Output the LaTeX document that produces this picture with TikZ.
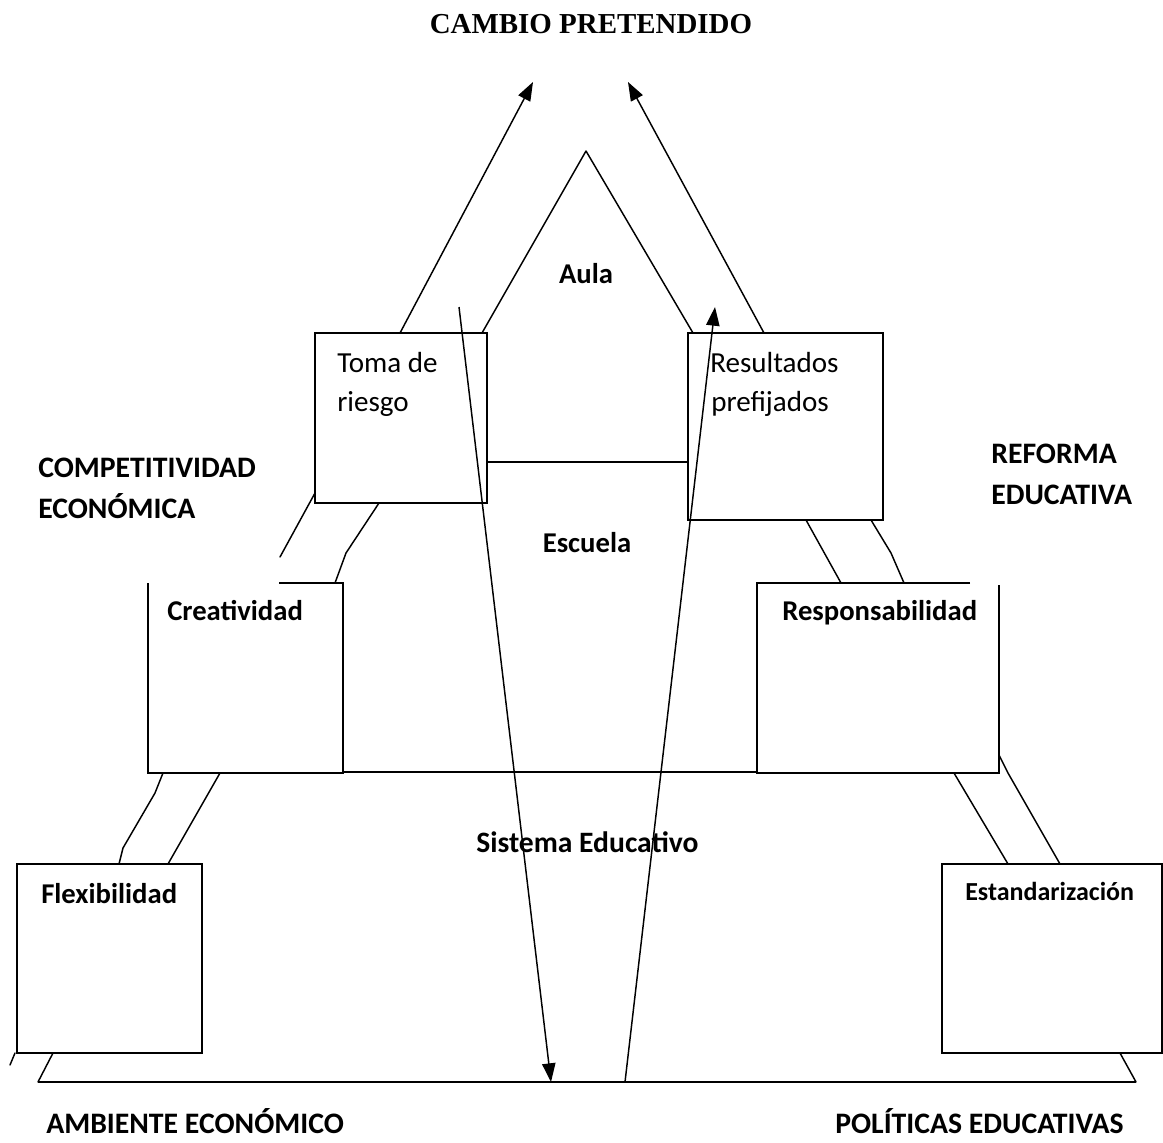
\documentclass[tikz,border=0pt]{standalone}
\usepackage{fontspec}
\setmainfont{Carlito}
\newfontfamily\titlefont{Liberation Serif}
\usetikzlibrary{arrows.meta}
\begin{document}
\begin{tikzpicture}[x=0.75pt,y=-0.75pt,
  boxline/.style={line width=1.5pt},
  sideline/.style={line width=1.1pt,line cap=round,line join=round},
  arr/.style={line width=1.1pt,-{Triangle[length=14pt,width=10pt]}},
  box/.style={rectangle,anchor=north west,inner sep=0pt,outer sep=0pt},
  lblb/.style={anchor=base west,inner sep=0pt,font=\fontsize{21.5}{24}\selectfont\bfseries},
  lblcap/.style={anchor=base west,inner sep=0pt,font=\fontsize{22.3}{24}\selectfont\bfseries},
  lblbc/.style={anchor=base,inner sep=0pt,font=\fontsize{21.5}{24}\selectfont\bfseries},
  lblr/.style={anchor=base west,inner sep=0pt,font=\fontsize{21.8}{24}\selectfont},
]
\useasboundingbox (0,0) rectangle (1163,1142);

% boxes
\node[box,draw,boxline,minimum width=129pt,minimum height=127.5pt] (toma) at (315,333) {};
\node[box,draw,boxline,minimum width=146.25pt,minimum height=140.25pt] (resul) at (688,333) {};
\node[box,minimum width=146.25pt,minimum height=142.5pt] (creat) at (148,583) {};
\node[box,minimum width=181.5pt,minimum height=142.5pt] (respo) at (757,583) {};
\node[box,draw,boxline,minimum width=138.75pt,minimum height=141.75pt] (flex) at (17,864) {};
\node[box,draw,boxline,minimum width=165pt,minimum height=141.75pt] (estan) at (942,864) {};

% partial box outlines
\coordinate (ctop) at (279,583);
\draw[boxline] (ctop) -- (creat.north east) -- (creat.south east) -- (creat.south west) -- (creat.north west);
\coordinate (rtop) at (970,583);
\coordinate (rright) at (999,585);
\draw[boxline] (rtop) -- (respo.north west) -- (respo.south west) -- (respo.south east) -- (rright);

% level lines
\coordinate (aulaL) at (487,462);
\coordinate (aulaR) at (688,462);
\draw[sideline] (aulaL) -- (aulaR);
\coordinate (escL) at (343,772);
\coordinate (escR) at (757,772);
\draw[sideline] (escL) -- (escR);
\coordinate (bl) at (38,1082);
\coordinate (br) at (1136,1082);
\draw[boxline] (bl) -- (br);

% apex triangle
\coordinate (apex) at (586,151);
\coordinate (ai) at (482,333);
\coordinate (bi) at (693,333);
\draw[sideline] (ai) -- (apex) -- (bi);

% outer arrows to CAMBIO PRETENDIDO
\coordinate (lo) at (400,333);
\coordinate (lotip) at (533,82);
\coordinate (ro) at (764,333);
\coordinate (rotip) at (628,82);
\draw[arr] (lo) -- (lotip);
\draw[arr] (ro) -- (rotip);

% toma -> creatividad
\coordinate (tc1a) at (315,493);
\coordinate (tc1b) at (280,557);
\coordinate (tc2a) at (379,503);
\coordinate (tc2m) at (346,553);
\coordinate (tc2b) at (335,583);
\draw[sideline] (tc1a) -- (tc1b);
\draw[sideline] (tc2a) -- (tc2m) -- (tc2b);

% resultados -> responsabilidad
\coordinate (rr1a) at (806,520);
\coordinate (rr1b) at (841,583);
\coordinate (rr2a) at (871,520);
\coordinate (rr2m) at (891,553);
\coordinate (rr2b) at (904,583);
\draw[sideline] (rr1a) -- (rr1b);
\draw[sideline] (rr2a) -- (rr2m) -- (rr2b);

% creatividad -> flexibilidad
\coordinate (cf1a) at (163,773);
\coordinate (cf1m) at (155,793);
\coordinate (cf1n) at (123,848);
\coordinate (cf1b) at (119,864);
\coordinate (cf2a) at (220,773);
\coordinate (cf2b) at (168,864);
\draw[sideline] (cf1a) -- (cf1m) -- (cf1n) -- (cf1b);
\draw[sideline] (cf2a) -- (cf2b);

% responsabilidad -> estandarizacion
\coordinate (re1a) at (954,773);
\coordinate (re1b) at (1008,864);
\coordinate (re2a) at (999,755);
\coordinate (re2m) at (1008,773);
\coordinate (re2b) at (1060,864);
\draw[sideline] (re1a) -- (re1b);
\draw[sideline] (re2a) -- (re2m) -- (re2b);

% boxes -> base
\coordinate (fb) at (53,1053);
\draw[sideline] (bl) -- (fb);
\coordinate (fd1) at (10,1065);
\coordinate (fd2) at (15,1053);
\draw[sideline] (fd1) -- (fd2);
\coordinate (eb) at (1120,1053);
\draw[sideline] (eb) -- (br);

% long arrows
\coordinate (dstart) at (459,307);
\coordinate (dend) at (551,1082);
\draw[arr] (dstart) -- (dend);
\coordinate (ustart) at (625,1082);
\coordinate (uend) at (715,307);
\draw[arr] (ustart) -- (uend);

% texts
\node[anchor=base,inner sep=0pt,font=\titlefont\fontsize{21.7}{24}\selectfont\bfseries] (title) at (591,33) {CAMBIO PRETENDIDO};
\node[lblcap] (comp1) at (38,477) {COMPETITIVIDAD};
\node[lblcap] (comp2) at (38,518) {ECONÓMICA};
\node[lblcap] (ref1) at (991,463) {REFORMA};
\node[lblcap] (ref2) at (991,504) {EDUCATIVA};
\node[lblcap] (amb) at (46,1133) {AMBIENTE ECONÓMICO};
\node[lblcap] (pol) at (835,1133) {POLÍTICAS EDUCATIVAS};
\node[lblbc] (aula) at (586,283) {Aula};
\node[lblbc] (escuela) at (587,552) {Escuela};
\node[anchor=base west,inner sep=0pt,font=\fontsize{22.2}{24}\selectfont\bfseries] (sist) at (476,852) {Sistema Educativo};
\node[lblr] (toma1) at (337,372) {Toma de};
\node[lblr] (toma2) at (337,411) {riesgo};
\node[lblr] (res1) at (710,372) {Resultados};
\node[lblr] (res2) at (711,411) {prefijados};
\node[lblb] (creattxt) at (167,620) {Creatividad};
\node[lblb] (respotxt) at (782,620) {Responsabilidad};
\node[lblb] (flextxt) at (41,903) {Flexibilidad};
\node[anchor=base west,inner sep=0pt,font=\fontsize{19.5}{22}\selectfont\bfseries] (estantxt) at (965,900) {Estandarización};
\end{tikzpicture}
\end{document}
